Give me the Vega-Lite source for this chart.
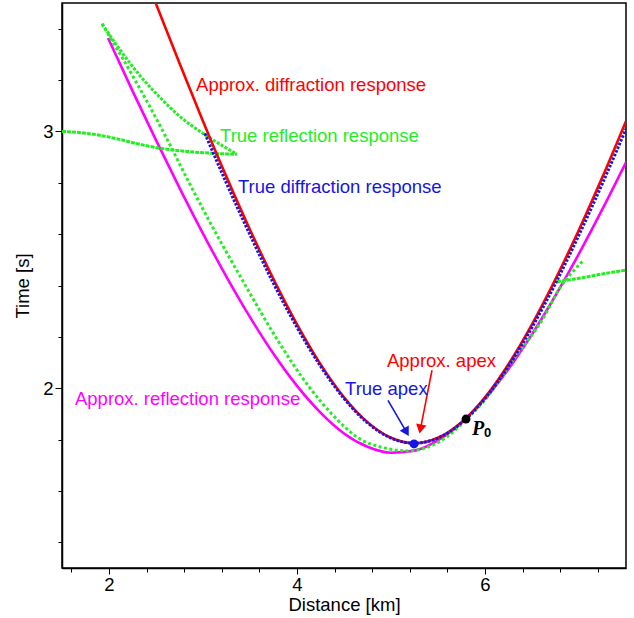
{
  "$schema": "https://vega.github.io/schema/vega-lite/v6.json",
  "width": 564,
  "height": 565,
  "autosize": {"type": "none"},
  "padding": {"left": 62, "top": 3, "right": 8, "bottom": 50},
  "background": "white",
  "config": {
    "font": "Liberation Sans",
    "view": {"stroke": "#000000", "strokeWidth": 1.5},
    "axis": {
      "grid": false,
      "domainColor": "#000000",
      "domainWidth": 1.5,
      "tickColor": "#000000",
      "tickWidth": 1,
      "labelColor": "#000000",
      "titleColor": "#000000",
      "labelFontSize": 18.5,
      "titleFontSize": 18.5,
      "titleFontWeight": "normal",
      "labelOverlap": false
    }
  },
  "datasets": {
    "approxDiffraction": [
      {"x": 2.4965, "t": 3.5},
      {"x": 2.75, "t": 3.265},
      {"x": 3.0, "t": 3.04},
      {"x": 3.25, "t": 2.823},
      {"x": 3.5, "t": 2.617},
      {"x": 3.75, "t": 2.425},
      {"x": 4.0, "t": 2.249},
      {"x": 4.25, "t": 2.094},
      {"x": 4.5, "t": 1.965},
      {"x": 4.75, "t": 1.868},
      {"x": 5.0, "t": 1.807},
      {"x": 5.25, "t": 1.786},
      {"x": 5.5, "t": 1.807},
      {"x": 5.75, "t": 1.868},
      {"x": 6.0, "t": 1.965},
      {"x": 6.25, "t": 2.094},
      {"x": 6.5, "t": 2.249},
      {"x": 6.75, "t": 2.425},
      {"x": 7.0, "t": 2.617},
      {"x": 7.25, "t": 2.823},
      {"x": 7.5, "t": 3.04}
    ],
    "trueDiffraction": [
      {"x": 3.02, "t": 2.992},
      {"x": 3.25, "t": 2.798},
      {"x": 3.5, "t": 2.597},
      {"x": 3.75, "t": 2.408},
      {"x": 4.0, "t": 2.237},
      {"x": 4.25, "t": 2.086},
      {"x": 4.5, "t": 1.96},
      {"x": 4.75, "t": 1.865},
      {"x": 5.0, "t": 1.806},
      {"x": 5.25, "t": 1.786},
      {"x": 5.5, "t": 1.806},
      {"x": 5.75, "t": 1.865},
      {"x": 6.0, "t": 1.96},
      {"x": 6.25, "t": 2.086},
      {"x": 6.5, "t": 2.237},
      {"x": 6.75, "t": 2.408},
      {"x": 7.0, "t": 2.597},
      {"x": 7.25, "t": 2.798},
      {"x": 7.5, "t": 3.01}
    ],
    "approxReflection": [
      {"x": 1.99, "t": 3.364},
      {"x": 2.25, "t": 3.158},
      {"x": 2.5, "t": 2.966},
      {"x": 2.75, "t": 2.78},
      {"x": 3.0, "t": 2.602},
      {"x": 3.25, "t": 2.434},
      {"x": 3.5, "t": 2.277},
      {"x": 3.75, "t": 2.134},
      {"x": 4.0, "t": 2.009},
      {"x": 4.25, "t": 1.905},
      {"x": 4.5, "t": 1.824},
      {"x": 4.75, "t": 1.772},
      {"x": 5.0, "t": 1.749},
      {"x": 5.25, "t": 1.757},
      {"x": 5.5, "t": 1.797},
      {"x": 5.75, "t": 1.865},
      {"x": 6.0, "t": 1.959},
      {"x": 6.25, "t": 2.075},
      {"x": 6.5, "t": 2.21},
      {"x": 6.75, "t": 2.361},
      {"x": 7.0, "t": 2.524},
      {"x": 7.25, "t": 2.698},
      {"x": 7.5, "t": 2.88}
    ],
    "trueReflectionMain": [
      {"x": 1.926, "t": 3.419},
      {"x": 2.277, "t": 3.2},
      {"x": 2.575, "t": 3.0},
      {"x": 2.853, "t": 2.8},
      {"x": 3.143, "t": 2.6},
      {"x": 3.452, "t": 2.4},
      {"x": 3.772, "t": 2.2},
      {"x": 4.14, "t": 2.0},
      {"x": 4.37, "t": 1.9},
      {"x": 4.68, "t": 1.8},
      {"x": 4.9, "t": 1.77},
      {"x": 5.18, "t": 1.756},
      {"x": 5.4, "t": 1.772},
      {"x": 5.6, "t": 1.812},
      {"x": 5.787, "t": 1.874},
      {"x": 6.0, "t": 1.955},
      {"x": 6.298, "t": 2.11},
      {"x": 6.617, "t": 2.271},
      {"x": 6.8, "t": 2.392},
      {"x": 6.92, "t": 2.448},
      {"x": 7.043, "t": 2.496}
    ],
    "trueReflectionUpper": [
      {"x": 1.926, "t": 3.419},
      {"x": 2.117, "t": 3.318},
      {"x": 2.33, "t": 3.217},
      {"x": 2.543, "t": 3.132},
      {"x": 2.755, "t": 3.058},
      {"x": 2.968, "t": 3.0},
      {"x": 3.181, "t": 2.95},
      {"x": 3.362, "t": 2.911}
    ],
    "trueReflectionFlat": [
      {"x": 1.5, "t": 3.0},
      {"x": 1.7, "t": 2.995},
      {"x": 1.9, "t": 2.985},
      {"x": 2.1, "t": 2.97},
      {"x": 2.3, "t": 2.952},
      {"x": 2.5, "t": 2.937},
      {"x": 2.75, "t": 2.925},
      {"x": 3.0, "t": 2.917},
      {"x": 3.2, "t": 2.913},
      {"x": 3.362, "t": 2.911}
    ],
    "trueReflectionRight": [
      {"x": 6.766, "t": 2.415},
      {"x": 7.0, "t": 2.428},
      {"x": 7.25, "t": 2.445},
      {"x": 7.5, "t": 2.46}
    ],
    "arrows": [
      {"kind": "true", "x": 4.968, "t": 1.953, "x2": 5.165, "t2": 1.829},
      {"kind": "approx", "x": 5.436, "t": 2.07, "x2": 5.313, "t2": 1.841}
    ],
    "labels": [
      {"kind": "approx", "text": "Approx. diffraction response", "x": 2.926, "t": 3.182},
      {"kind": "reflection", "text": "True reflection response", "x": 3.181, "t": 2.984},
      {"kind": "true", "text": "True diffraction response", "x": 3.372, "t": 2.783},
      {"kind": "approxReflection", "text": "Approx. reflection response", "x": 1.638, "t": 1.957},
      {"kind": "approx", "text": "Approx. apex", "x": 4.957, "t": 2.105},
      {"kind": "true", "text": "True apex", "x": 4.511, "t": 1.996}
    ]
  },
  "encoding": {
    "x": {
      "field": "x",
      "type": "quantitative",
      "scale": {"domain": [1.5, 7.5], "nice": false, "zero": false},
      "axis": {
        "title": "Distance [km]",
        "values": [1.6, 2, 2.4, 2.8, 3.2, 3.6, 4, 4.4, 4.8, 5.2, 5.6, 6, 6.4, 6.8, 7.2],
        "labelExpr": "datum.value == 2 ? '2' : datum.value == 4 ? '4' : datum.value == 6 ? '6' : ''",
        "tickSize": {"condition": {"test": "datum.value == 2 || datum.value == 4 || datum.value == 6", "value": 6}, "value": 4},
        "labelPadding": 1,
        "titlePadding": 2
      }
    },
    "y": {
      "field": "t",
      "type": "quantitative",
      "scale": {"domain": [1.3, 3.5], "nice": false, "zero": false},
      "axis": {
        "title": "Time [s]",
        "values": [1.4, 1.6, 1.8, 2, 2.2, 2.4, 2.6, 2.8, 3, 3.2, 3.4],
        "labelExpr": "datum.value == 2 ? '2' : datum.value == 3 ? '3' : ''",
        "tickSize": {"condition": {"test": "datum.value == 2 || datum.value == 3", "value": 7}, "value": 4},
        "labelPadding": 2,
        "titlePadding": 10
      }
    }
  },
  "layer": [
    {
      "data": {"name": "approxReflection"},
      "mark": {"type": "line", "color": "#ff00ff", "strokeWidth": 2.6, "interpolate": "monotone", "clip": true}
    },
    {
      "data": {"name": "trueReflectionFlat"},
      "mark": {"type": "line", "color": "#22ee22", "strokeWidth": 3, "strokeDash": [4, 1], "interpolate": "monotone", "clip": true}
    },
    {
      "data": {"name": "trueReflectionUpper"},
      "mark": {"type": "line", "color": "#22ee22", "strokeWidth": 3, "strokeDash": [3, 1.5], "interpolate": "monotone", "clip": true}
    },
    {
      "data": {"name": "trueReflectionMain"},
      "mark": {"type": "line", "color": "#22ee22", "strokeWidth": 3, "strokeDash": [3, 2.5], "interpolate": "monotone", "clip": true}
    },
    {
      "data": {"name": "trueReflectionRight"},
      "mark": {"type": "line", "color": "#22ee22", "strokeWidth": 3, "strokeDash": [4, 1], "interpolate": "monotone", "clip": true}
    },
    {
      "data": {"name": "approxDiffraction"},
      "mark": {"type": "line", "color": "#ff0000", "strokeWidth": 2.6, "interpolate": "monotone", "clip": true}
    },
    {
      "data": {"name": "trueDiffraction"},
      "mark": {"type": "line", "color": "#1515e6", "strokeWidth": 3, "strokeDash": [2.5, 1.5], "interpolate": "monotone", "clip": true}
    },
    {
      "data": {"name": "arrows"},
      "mark": {"type": "rule", "strokeWidth": 1.6},
      "encoding": {
        "x2": {"field": "x2"},
        "y2": {"field": "t2"},
        "color": {"field": "kind", "type": "nominal", "scale": {"domain": ["true", "approx"], "range": ["#1515e6", "#ff0000"]}, "legend": null}
      }
    },
    {
      "data": {"values": [{"x": 5.165, "t": 1.829}]},
      "mark": {"type": "point", "shape": "triangle-up", "filled": true, "opacity": 1, "size": 110, "angle": 150, "color": "#1515e6"}
    },
    {
      "data": {"values": [{"x": 5.313, "t": 1.841}]},
      "mark": {"type": "point", "shape": "triangle-up", "filled": true, "opacity": 1, "size": 110, "angle": 191, "color": "#ff0000"}
    },
    {
      "data": {"values": [{"x": 5.245, "t": 1.783}]},
      "mark": {"type": "point", "shape": "circle", "filled": true, "opacity": 1, "size": 80, "color": "#1515e6"}
    },
    {
      "data": {"values": [{"x": 5.798, "t": 1.88}]},
      "mark": {"type": "point", "shape": "circle", "filled": true, "opacity": 1, "size": 80, "color": "#000000"}
    },
    {
      "data": {"name": "labels"},
      "mark": {"type": "text", "align": "left", "baseline": "middle", "fontSize": 18.5, "font": "Liberation Sans"},
      "encoding": {
        "text": {"field": "text"},
        "color": {"field": "kind", "type": "nominal", "scale": {"domain": ["approx", "reflection", "true", "approxReflection"], "range": ["#ff0000", "#22ee22", "#1515e6", "#ff00ff"]}, "legend": null}
      }
    },
    {
      "data": {"values": [{"x": 5.862, "t": 1.843, "text": "P"}]},
      "mark": {"type": "text", "align": "left", "baseline": "middle", "fontSize": 20, "font": "Liberation Serif", "fontStyle": "italic", "fontWeight": "bold", "color": "#000000"},
      "encoding": {"text": {"field": "text"}}
    },
    {
      "data": {"values": [{"x": 5.99, "t": 1.827, "text": "0"}]},
      "mark": {"type": "text", "align": "left", "baseline": "middle", "fontSize": 13, "font": "Liberation Sans", "fontWeight": "bold", "color": "#000000"},
      "encoding": {"text": {"field": "text"}}
    }
  ],
  "resolve": {"scale": {"color": "independent"}}
}
